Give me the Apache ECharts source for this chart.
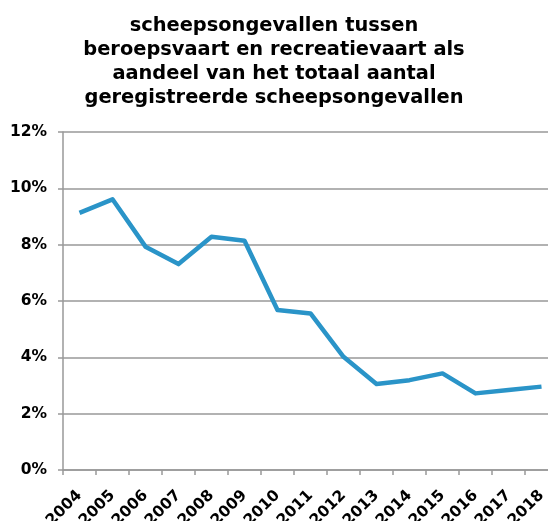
<!DOCTYPE html>
<html>
<head>
<meta charset="utf-8">
<style>
html,body{margin:0;padding:0;background:#fff;}
#chart{width:548px;height:521px;}
</style>
<script src="https://cdn.jsdelivr.net/npm/echarts@6/dist/echarts.min.js"></script>
</head>
<body>
<div id="chart"></div>
<script>
const titleText = "scheepsongevallen tussen\nberoepsvaart en recreatievaart als\naandeel van het totaal aantal\ngeregistreerde scheepsongevallen";
const years = ["2004","2005","2006","2007","2008","2009","2010","2011","2012","2013","2014","2015","2016","2017","2018"];
const shares = [9.13, 9.61, 7.93, 7.31, 8.28, 8.14, 5.68, 5.56, 4.02, 3.05, 3.19, 3.43, 2.72, 2.84, 2.96];
const yMin = 0, yMax = 12, yStep = 2;

const chart = echarts.init(document.getElementById('chart'), null, {renderer:'canvas'});
chart.setOption({
  animation: false,
  backgroundColor: '#ffffff',
  title: {
    text: titleText,
    left: 'center',
    top: 9,
    padding: [5, 13, 5, 5],
    textStyle: {
      fontFamily: 'DejaVu Sans',
      fontWeight: 'bold',
      fontSize: 19.4,
      lineHeight: 24,
      color: '#000'
    }
  },
  grid: {
    left: 63, right: -10, top: 132, bottom: 51,
    containLabel: false,
    outerBoundsMode: 'none'
  },
  xAxis: {
    type: 'category',
    data: years,
    boundaryGap: true,
    axisLine: {lineStyle: {color: '#999', width: 1.5}},
    axisTick: {show: true, length: 5, lineStyle: {color: '#999', width: 1.5}},
    axisLabel: {
      rotate: 45,
      interval: 0,
      margin: 23,
      fontFamily: 'DejaVu Sans',
      fontWeight: 'bold',
      fontSize: 15.5,
      color: '#000'
    }
  },
  yAxis: {
    type: 'value',
    min: yMin, max: yMax, interval: yStep,
    axisLine: {show: true, lineStyle: {color: '#999', width: 1.5}},
    axisTick: {show: true, length: 5, lineStyle: {color: '#999', width: 1.5}},
    splitLine: {show: true, lineStyle: {color: '#999', width: 1.5}},
    axisLabel: {
      formatter: '{value}%',
      margin: 16,
      fontFamily: 'DejaVu Sans',
      fontWeight: 'bold',
      fontSize: 15.5,
      color: '#000'
    }
  },
  series: [{
    type: 'line',
    data: shares,
    symbol: 'none',
    lineStyle: {color: '#2a94c8', width: 4.5, join: 'round'},
    itemStyle: {color: '#2a94c8'}
  }]
});
</script>
</body>
</html>
